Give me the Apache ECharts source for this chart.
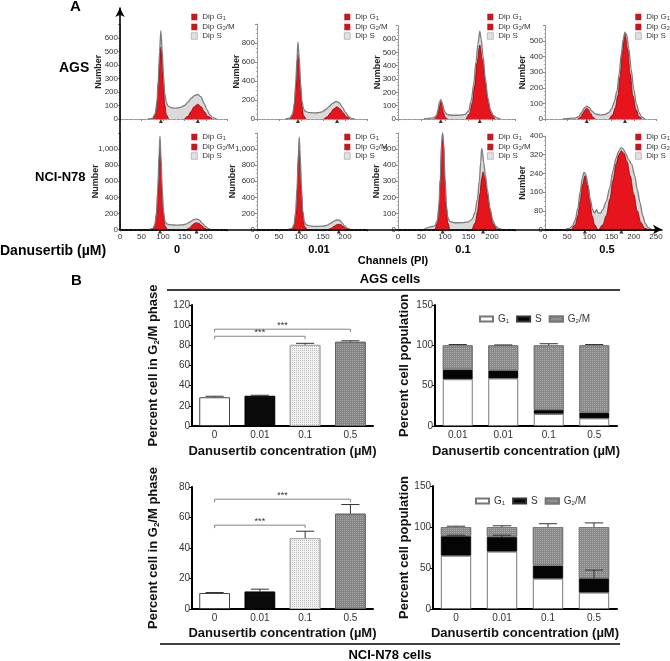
<!DOCTYPE html>
<html><head><meta charset="utf-8">
<script src="https://cdn.jsdelivr.net/npm/echarts@6/dist/echarts.min.js"></script>
<style>html,body{margin:0;padding:0;background:#fff}#c{width:670px;height:661px}</style>
</head><body><div id="c"></div>
<script>
// ---------------- DATA: panel A (flow cytometry histograms, [channel, count]) ----------------
const AGS_0_G1 = [[77,0],[82,30],[86,110],[89,250],[92,420],[95,535],[98,420],[101,250],[104,110],[108,30],[113,0]];
const AGS_0_G2M = [[150,0],[158,20],[165,55],[172,90],[181,110],[189,90],[196,55],[204,20],[214,0]];
const AGS_0_TOTAL = [[65,0],[75,5],[82,40],[86,130],[89,290],[92,500],[95,655],[98,520],[101,330],[104,190],[108,120],[112,95],[118,85],[126,80],[134,82],[142,88],[150,100],[158,125],[166,155],[174,175],[181,182],[188,165],[195,120],[202,70],[209,30],[216,8],[225,0]];

const AGS_001_G1 = [[76,0],[81,35],[85,140],[88,320],[91,540],[93,680],[96,540],[99,320],[102,140],[106,35],[111,0]];
const AGS_001_G2M = [[152,0],[160,25],[167,65],[174,105],[182,128],[189,105],[196,65],[203,25],[212,0]];
const AGS_001_TOTAL = [[65,0],[74,8],[81,50],[85,170],[88,380],[91,640],[93,810],[96,650],[99,380],[102,190],[106,105],[110,80],[118,68],[128,65],[138,66],[148,75],[156,100],[164,130],[172,165],[180,185],[187,170],[194,125],[201,70],[208,28],[215,6],[222,0]];

const AGS_01_G1 = [[78,0],[82,15],[85,45],[88,95],[91,130],[94,95],[97,45],[100,15],[105,0]];
const AGS_01_G2M = [[145,0],[152,40],[158,120],[163,250],[168,420],[174,555],[180,440],[186,270],[192,120],[198,40],[206,0]];
const AGS_01_TOTAL = [[55,0],[65,4],[75,8],[82,25],[85,70],[88,125],[91,145],[94,125],[97,80],[101,45],[106,32],[115,28],[125,28],[135,30],[143,35],[150,60],[156,140],[161,260],[166,430],[170,560],[174,660],[177,600],[181,470],[186,300],[191,160],[197,65],[203,25],[210,8],[218,0]];

const AGS_05_G1 = [[74,0],[80,12],[85,35],[90,60],[94,69],[98,60],[103,35],[108,12],[113,0]];
const AGS_05_G2M = [[145,0],[152,25],[158,70],[164,150],[169,270],[174,430],[180,549],[186,450],[192,290],[198,150],[205,60],[212,15],[218,0]];
const AGS_05_TOTAL = [[40,0],[55,4],[68,6],[76,15],[82,40],[88,70],[94,83],[100,72],[106,50],[112,35],[120,28],[128,26],[136,30],[144,42],[150,65],[156,110],[162,180],[167,290],[172,420],[176,510],[180,556],[184,540],[189,450],[194,320],[200,190],[206,95],[212,40],[218,12],[225,0]];

const N78_0_G1 = [[76,0],[81,40],[85,180],[88,450],[91,850],[93,1050],[95,850],[98,450],[101,180],[105,40],[110,0]];
const N78_0_G2M = [[155,0],[162,20],[168,55],[173,78],[178,85],[184,75],[190,50],[196,20],[202,0]];
const N78_0_TOTAL = [[68,0],[76,10],[81,60],[85,220],[88,520],[91,950],[93,1160],[95,930],[98,520],[101,230],[105,95],[109,70],[116,60],[125,56],[135,55],[145,58],[155,70],[163,95],[170,120],[177,132],[184,120],[191,80],[198,40],[205,12],[212,0]];

const N78_001_G1 = [[79,0],[84,40],[88,180],[91,450],[94,850],[96,1040],[98,850],[101,450],[104,180],[108,40],[113,0]];
const N78_001_G2M = [[162,0],[169,15],[175,40],[181,60],[186,65],[191,58],[197,35],[203,12],[209,0]];
const N78_001_TOTAL = [[70,0],[79,10],[84,60],[88,220],[91,520],[94,950],[96,1150],[98,930],[101,520],[104,230],[108,90],[112,60],[120,45],[130,40],[140,40],[150,42],[160,55],[168,80],[175,105],[181,118],[187,115],[193,85],[199,45],[206,15],[213,0]];

const N78_01_G1 = [[79,0],[84,40],[87,130],[90,300],[93,520],[95,587],[97,520],[100,300],[103,130],[106,40],[110,0]];
const N78_01_G2M = [[158,0],[164,40],[169,110],[174,220],[178,320],[181,359],[185,320],[190,220],[196,110],[202,35],[210,0]];
const N78_01_TOTAL = [[55,0],[62,10],[70,18],[78,22],[84,60],[87,150],[90,320],[93,550],[95,600],[97,540],[100,320],[103,150],[106,75],[110,50],[120,42],[130,42],[140,43],[150,48],[158,65],[164,110],[169,190],[173,300],[176,420],[178,505],[180,480],[182,420],[186,340],[190,250],[196,130],[202,55],[208,20],[215,5],[222,0]];

const N78_05_G1 = [[60,0],[68,20],[74,60],[79,120],[84,190],[90,230],[96,190],[101,120],[106,60],[112,20],[118,0]];
const N78_05_G2M = [[122,0],[130,20],[138,60],[146,130],[153,210],[160,280],[166,320],[172,337],[178,325],[185,290],[192,230],[200,150],[208,80],[216,30],[225,5],[232,0]];
const N78_05_TOTAL = [[45,0],[55,5],[62,15],[68,40],[74,90],[79,160],[84,220],[88,245],[92,235],[97,190],[102,130],[107,85],[112,70],[116,85],[120,70],[125,70],[130,85],[138,120],[146,180],[153,250],[160,305],[166,335],[171,350],[176,345],[182,325],[188,300],[195,280],[202,230],[208,170],[214,115],[220,60],[226,25],[232,8],[240,0]];

const AGS_PEAK_CH = [[95,181],[93,182],[91,174],[94,180]];
const N78_PEAK_CH = [[93,178],[96,186],[95,181],[90,172]];

// ---------------- DATA: panel B ----------------
const DOSE_CATS = ['0', '0.01', '0.1', '0.5'];
const AGS_STACK_CATS = ['0.01', '0.01', '0.1', '0.5'];
const AGS_G2M_PCT = [28.5, 30, 80.5, 83.5];
const AGS_G2M_ERR = [1, 0.5, 1.5, 1];
const AGS_BRACKETS = [[0, 2, 89], [0, 3, 96]];
const N78_G2M_PCT = [10.5, 11.5, 46.5, 62.5];
const N78_G2M_ERR = [0.3, 1.5, 4.5, 6];
const N78_BRACKETS = [[0, 2, 55], [0, 3, 72]];

const AGS_STACK_G1 = [58, 59, 15, 9.5];
const AGS_STACK_S = [12, 10, 5, 7];
const AGS_STACK_G2M = [30, 31, 80, 83.5];
const AGS_STACK_TOP_ERR = [1, 0.5, 2, 1];
const AGS_STACK_S_ERR = [0, 0, 0, 0];
const N78_STACK_G1 = [65, 70, 37, 20];
const N78_STACK_S = [24, 18, 16, 17.5];
const N78_STACK_G2M = [11, 12, 47, 62.5];
const N78_STACK_TOP_ERR = [1, 1.5, 4, 5];
const N78_STACK_S_ERR = [1, 2, 0, 10];

// ---------------- LAYOUT / STYLE ----------------
const FONT = 'Arial, "Liberation Sans", Helvetica, sans-serif';
const RED = '#e6141c';
const HIST = [
  {row:0, left:120, width:107.5, top:24.5, max:700, interval:100, g1:AGS_0_G1, g2:AGS_0_G2M, tot:AGS_0_TOTAL, pk:AGS_PEAK_CH[0], legLeft:191, gap:17},
  {row:0, left:257, width:110, top:24, max:1000, interval:200, g1:AGS_001_G1, g2:AGS_001_G2M, tot:AGS_001_TOTAL, pk:AGS_PEAK_CH[1], legLeft:344, gap:16},
  {row:0, left:398, width:117.5, top:25.7, max:700, interval:100, g1:AGS_01_G1, g2:AGS_01_G2M, tot:AGS_01_TOTAL, pk:AGS_PEAK_CH[2], legLeft:487, gap:16},
  {row:0, left:545, width:111, top:25.4, max:600, interval:100, g1:AGS_05_G1, g2:AGS_05_G2M, tot:AGS_05_TOTAL, pk:AGS_PEAK_CH[3], legLeft:635, gap:18},
  {row:1, left:120, width:107.5, top:133, max:1200, interval:200, g1:N78_0_G1, g2:N78_0_G2M, tot:N78_0_TOTAL, pk:N78_PEAK_CH[0], legLeft:191, gap:20},
  {row:1, left:257, width:110, top:133, max:1200, interval:200, g1:N78_001_G1, g2:N78_001_G2M, tot:N78_001_TOTAL, pk:N78_PEAK_CH[1], legLeft:344, gap:20},
  {row:1, left:398, width:117.5, top:133, max:600, interval:100, g1:N78_01_G1, g2:N78_01_G2M, tot:N78_01_TOTAL, pk:N78_PEAK_CH[2], legLeft:487, gap:17},
  {row:1, left:545, width:111, top:136, max:400, interval:80, showMax:true, showX250:true, g1:N78_05_G1, g2:N78_05_G2M, tot:N78_05_TOTAL, pk:N78_PEAK_CH[3], legLeft:635, gap:18}
];
const ROW_BOTTOM = [119, 229.5];
const ROW_LEG_TOP = [12, 132];

const grids = [], xAxes = [], yAxes = [], series = [], legends = [];
const subFmt = n => n.replace(/G(\d)/, 'G{s|$1}');

HIST.forEach((p, i) => {
  grids.push({left:p.left, top:p.top, width:p.width, height:ROW_BOTTOM[p.row] - p.top, outerBoundsMode:'none'});
  xAxes.push({gridIndex:i, type:'value', min:0, max:250, interval:50,
    axisLine:{show:true, lineStyle:{color:p.row ? '#000' : '#999', width:p.row ? 1.5 : 1}},
    axisTick:{show:true, length:2, lineStyle:{color:'#888'}},
    minorTick:{show:true, splitNumber:5, length:1.2, lineStyle:{color:'#bbb'}},
    axisLabel:{show:p.row === 1, fontSize:8, color:'#333', margin:3, fontFamily:FONT, showMaxLabel:!!p.showX250},
    splitLine:{show:false}});
  yAxes.push({gridIndex:i, type:'value', min:0, max:p.max, interval:p.interval,
    name:'Number', nameLocation:'middle', nameGap:p.gap, nameMoveOverlap:false,
    nameTextStyle:{fontSize:9, fontWeight:'bold', color:'#222', fontFamily:FONT},
    axisLine:{show:true, lineStyle:{color:'#999', width:1}},
    axisTick:{show:true, length:2, lineStyle:{color:'#888'}},
    minorTick:{show:true, splitNumber:4, length:1.2, lineStyle:{color:'#bbb'}},
    axisLabel:{fontSize:8, color:'#333', margin:2, fontFamily:FONT, showMaxLabel:!!p.showMax,
      formatter:v => v.toLocaleString('en-US')},
    splitLine:{show:false}});
  const ax = {xAxisIndex:i, yAxisIndex:i};
  series.push(Object.assign({name:'Dip S', type:'line', data:p.tot, smooth:0.3, smoothMonotone:'x', showSymbol:false, silent:true,
    lineStyle:{width:0}, itemStyle:{color:'#d6d6d6'}, areaStyle:{color:'#dadada', opacity:1}, z:2}, ax));
  series.push(Object.assign({name:'Dip G1', type:'line', data:p.g1, smooth:0.35, smoothMonotone:'x', showSymbol:false, silent:true,
    lineStyle:{width:0.7, color:'#7a0000'}, itemStyle:{color:'#c8161d'}, areaStyle:{color:RED, opacity:1}, z:3}, ax));
  series.push(Object.assign({name:'Dip G2/M', type:'line', data:p.g2, smooth:0.35, smoothMonotone:'x', showSymbol:false, silent:true,
    lineStyle:{width:0.7, color:'#7a0000'}, itemStyle:{color:'#c8161d'}, areaStyle:{color:RED, opacity:1}, z:3}, ax));
  series.push(Object.assign({name:'total', type:'line', data:p.tot, smooth:0.3, smoothMonotone:'x', showSymbol:false, silent:true,
    lineStyle:{width:1.3, color:'#7d7d7d'}, z:4}, ax));
  series.push(Object.assign({name:'peak', type:'scatter', data:p.pk.map(c => [c, 0]), symbol:'triangle', symbolSize:4,
    symbolOffset:[0, 2], itemStyle:{color:'#000'}, silent:true, z:5}, ax));
  legends.push({left:p.legLeft, top:ROW_LEG_TOP[p.row], orient:'vertical', padding:0, itemGap:1,
    itemWidth:6, itemHeight:6.5, selectedMode:false, icon:'rect',
    lineStyle:{width:0, color:'rgba(0,0,0,0)'},
    formatter:subFmt,
    textStyle:{fontSize:8, color:'#333', fontFamily:FONT, lineHeight:8,
      rich:{s:{fontSize:5.5, fontFamily:FONT, color:'#333', verticalAlign:'bottom', lineHeight:5, padding:[3,0,0,0]}}},
    data:[{name:'Dip G1', itemStyle:{color:'#c8161d'}},
          {name:'Dip G2/M', itemStyle:{color:'#c8161d'}},
          {name:'Dip S', itemStyle:{color:'#e2e2e2', borderColor:'#999', borderWidth:0.6}}]});
});

// ---------------- Panel B ----------------
const DECAL_LIGHT = {symbol:'rect', symbolSize:1, dashArrayX:[1,1], dashArrayY:[1,1], color:'rgba(150,150,150,0.55)'};
const DECAL_DARK = {symbol:'rect', symbolSize:1, dashArrayX:[1,1], dashArrayY:[1,1], color:'rgba(255,255,255,0.28)'};
const B_BAR_STYLES = [
  {color:'#ffffff', borderColor:'#444', borderWidth:1},
  {color:'#0a0a0a', borderColor:'#000', borderWidth:1},
  {color:'#f2f2f2', borderColor:'#aaa', borderWidth:1, decal:DECAL_LIGHT},
  {color:'#858585', borderColor:'#666', borderWidth:1, decal:DECAL_DARK}
];
const B_GRIDS = [
  {left:192, top:305, width:181, height:121},
  {left:435, top:305, width:182, height:121},
  {left:192, top:487, width:181, height:122},
  {left:433, top:486, width:184, height:123}
];
B_GRIDS.forEach(g => grids.push(Object.assign({outerBoundsMode:'none'}, g)));

const richName = {
  a:{fontSize:13, fontWeight:'bold', color:'#111', fontFamily:FONT},
  s:{fontSize:8, fontWeight:'bold', color:'#111', fontFamily:FONT, padding:[7,0,0,0]}
};
function bX(gi, cats, gap) {
  return {gridIndex:gi, type:'category', data:cats,
    axisLine:{show:true, lineStyle:{color:'#000', width:2}}, axisTick:{show:false},
    axisLabel:{fontSize:10, color:'#333', margin:4, fontFamily:FONT, interval:0},
    name:'Danusertib concentration (µM)', nameLocation:'middle', nameGap:gap, nameMoveOverlap:false,
    nameTextStyle:{fontSize:13, fontWeight:'bold', color:'#111', fontFamily:FONT}};
}
function bY(gi, max, interval, name, gap) {
  return {gridIndex:gi, type:'value', min:0, max:max, interval:interval,
    axisLine:{show:true, lineStyle:{color:'#000', width:2}},
    axisTick:{show:true, length:3, lineStyle:{color:'#000', width:1}},
    axisLabel:{fontSize:10, color:'#333', margin:2, fontFamily:FONT},
    splitLine:{show:false},
    name:name, nameLocation:'middle', nameGap:gap, nameRotate:90, nameMoveOverlap:false,
    nameTextStyle:{fontSize:13, fontWeight:'bold', color:'#111', fontFamily:FONT, rich:richName}};
}
xAxes.push(bX(8, DOSE_CATS, 19), bX(9, AGS_STACK_CATS, 19), bX(10, DOSE_CATS, 18), bX(11, DOSE_CATS, 18));
const G2M_NAME = '{a|Percent cell in G}{s|2}{a|/M phase}';
yAxes.push(bY(8, 120, 20, G2M_NAME, 31), bY(9, 150, 50, '{a|Percent cell population}', 24),
           bY(10, 80, 20, G2M_NAME, 31), bY(11, 150, 50, '{a|Percent cell population}', 22));

function renderErr(params, api) {
  const x = api.value(0), base = api.value(1), err = api.value(2);
  if (!err) return null;
  const p0 = api.coord([x, base]);
  const p1 = api.coord([x, base + err]);
  const half = api.size([1, 0])[0] * 0.2;
  const st = {stroke:'#333', lineWidth:1};
  return {type:'group', children:[
    {type:'line', shape:{x1:p0[0], y1:p0[1], x2:p1[0], y2:p1[1]}, style:st},
    {type:'line', shape:{x1:p1[0] - half, y1:p1[1], x2:p1[0] + half, y2:p1[1]}, style:st}
  ]};
}
function renderBracket(params, api) {
  const a = api.coord([api.value(0), api.value(2)]);
  const b = api.coord([api.value(1), api.value(2)]);
  return {type:'group', children:[
    {type:'polyline', shape:{points:[[a[0], a[1] + 3], [a[0], a[1]], [b[0], b[1]], [b[0], b[1] + 3]]},
      style:{stroke:'#666', fill:null, lineWidth:0.8}},
    {type:'text', x:(a[0] + b[0]) / 2, y:a[1] + 1,
      style:{text:'***', align:'center', verticalAlign:'bottom', textAlign:'center', textVerticalAlign:'bottom',
        font:'9px ' + FONT, fill:'#333'}}
  ]};
}
function addSimple(gi, vals, errs, brackets) {
  const ax = {xAxisIndex:gi, yAxisIndex:gi};
  series.push(Object.assign({type:'bar', barWidth:'68%', silent:true,
    data:vals.map((v, i) => ({value:v, itemStyle:B_BAR_STYLES[i]}))}, ax));
  series.push(Object.assign({type:'custom', renderItem:renderErr, silent:true, z:3,
    encode:{x:0, y:1}, data:vals.map((v, i) => [i, v, errs[i]])}, ax));
  series.push(Object.assign({type:'custom', renderItem:renderBracket, silent:true, z:3,
    encode:{x:[0, 1], y:2}, data:brackets}, ax));
}
function addStack(gi, g1, s, g2m, topErr, sErr, stackId) {
  const ax = {xAxisIndex:gi, yAxisIndex:gi};
  series.push(Object.assign({name:'G1', type:'bar', stack:stackId, barWidth:'66%', silent:true, data:g1,
    itemStyle:{color:'#ffffff', borderColor:'#777', borderWidth:1}}, ax));
  series.push(Object.assign({name:'S', type:'bar', stack:stackId, silent:true, data:s,
    itemStyle:{color:'#050505', borderColor:'#333', borderWidth:0.5}}, ax));
  series.push(Object.assign({name:'G2/M', type:'bar', stack:stackId, silent:true, data:g2m,
    itemStyle:{color:'#8a8a8a', borderColor:'#777', borderWidth:1, decal:DECAL_DARK}}, ax));
  series.push(Object.assign({type:'custom', renderItem:renderErr, silent:true, z:3, encode:{x:0, y:1},
    data:g1.map((v, i) => [i, v + s[i] + g2m[i], topErr[i]])}, ax));
  series.push(Object.assign({type:'custom', renderItem:renderErr, silent:true, z:3, encode:{x:0, y:1},
    data:g1.map((v, i) => [i, v + s[i], sErr[i]])}, ax));
}
addSimple(8, AGS_G2M_PCT, AGS_G2M_ERR, AGS_BRACKETS);
addStack(9, AGS_STACK_G1, AGS_STACK_S, AGS_STACK_G2M, AGS_STACK_TOP_ERR, AGS_STACK_S_ERR, 'ags');
addSimple(10, N78_G2M_PCT, N78_G2M_ERR, N78_BRACKETS);
addStack(11, N78_STACK_G1, N78_STACK_S, N78_STACK_G2M, N78_STACK_TOP_ERR, N78_STACK_S_ERR, 'n78');

const bLegend = (left, top) => ({left:left, top:top, orient:'horizontal', padding:0, itemGap:7,
  itemWidth:13, itemHeight:5, selectedMode:false, icon:'rect', formatter:subFmt,
  textStyle:{fontSize:10, color:'#333', fontFamily:FONT,
    rich:{s:{fontSize:6, color:'#333', fontFamily:FONT, padding:[5,0,0,0]}}},
  data:['G1', 'S', 'G2/M']});
legends.push(bLegend(479, 314), bLegend(475, 496));

// ---------------- Panel A long arrow axes ----------------
grids.push({left:120, top:8, width:542, height:221.5, outerBoundsMode:'none'});
const arrowAxis = gi => ({gridIndex:gi, type:'value', min:0, max:1, z:5,
  axisLine:{show:true, symbol:['none', 'arrow'], symbolSize:[7, 9], lineStyle:{color:'#000', width:1.6}},
  axisTick:{show:false}, axisLabel:{show:false}, splitLine:{show:false}});
xAxes.push(arrowAxis(12));
yAxes.push(arrowAxis(12));

// ---------------- Texts ----------------
const txt = (text, x, y, size, align, bold) => ({type:'text', x:x, y:y, silent:true,
  style:{text:text, font:(bold ? 'bold ' : '') + size + 'px ' + FONT, fill:'#000',
    align:align, verticalAlign:'middle', textAlign:align, textVerticalAlign:'middle'}});
const graphic = [
  txt('A', 70, 7, 15, 'left', true),
  txt('B', 71, 281, 15, 'left', true),
  txt('AGS', 59, 68, 14, 'left', true),
  txt('NCI-N78', 35, 177, 13, 'left', true),
  txt('Danusertib (µM)', 0, 251, 14, 'left', true),
  txt(DOSE_CATS[0], 177, 250, 11, 'center', true),
  txt(DOSE_CATS[1], 319, 250, 11, 'center', true),
  txt(DOSE_CATS[2], 463, 250, 11, 'center', true),
  txt(DOSE_CATS[3], 607, 250, 11, 'center', true),
  txt('Channels (PI)', 393, 261, 11, 'center', true),
  txt('AGS cells', 390, 279, 13, 'center', true),
  txt('NCI-N78 cells', 390, 655, 13, 'center', true),
  {type:'line', silent:true, shape:{x1:167, y1:290, x2:620, y2:290}, style:{stroke:'#000', lineWidth:1.5}},
  {type:'line', silent:true, shape:{x1:160, y1:644, x2:620, y2:644}, style:{stroke:'#000', lineWidth:1.5}}
];

const chart = echarts.init(document.getElementById('c'), null, {renderer:'canvas'});
chart.setOption({
  animation:false,
  backgroundColor:'#fff',
  textStyle:{fontFamily:FONT},
  grid:grids, xAxis:xAxes, yAxis:yAxes, legend:legends, series:series, graphic:graphic
});
</script></body></html>
